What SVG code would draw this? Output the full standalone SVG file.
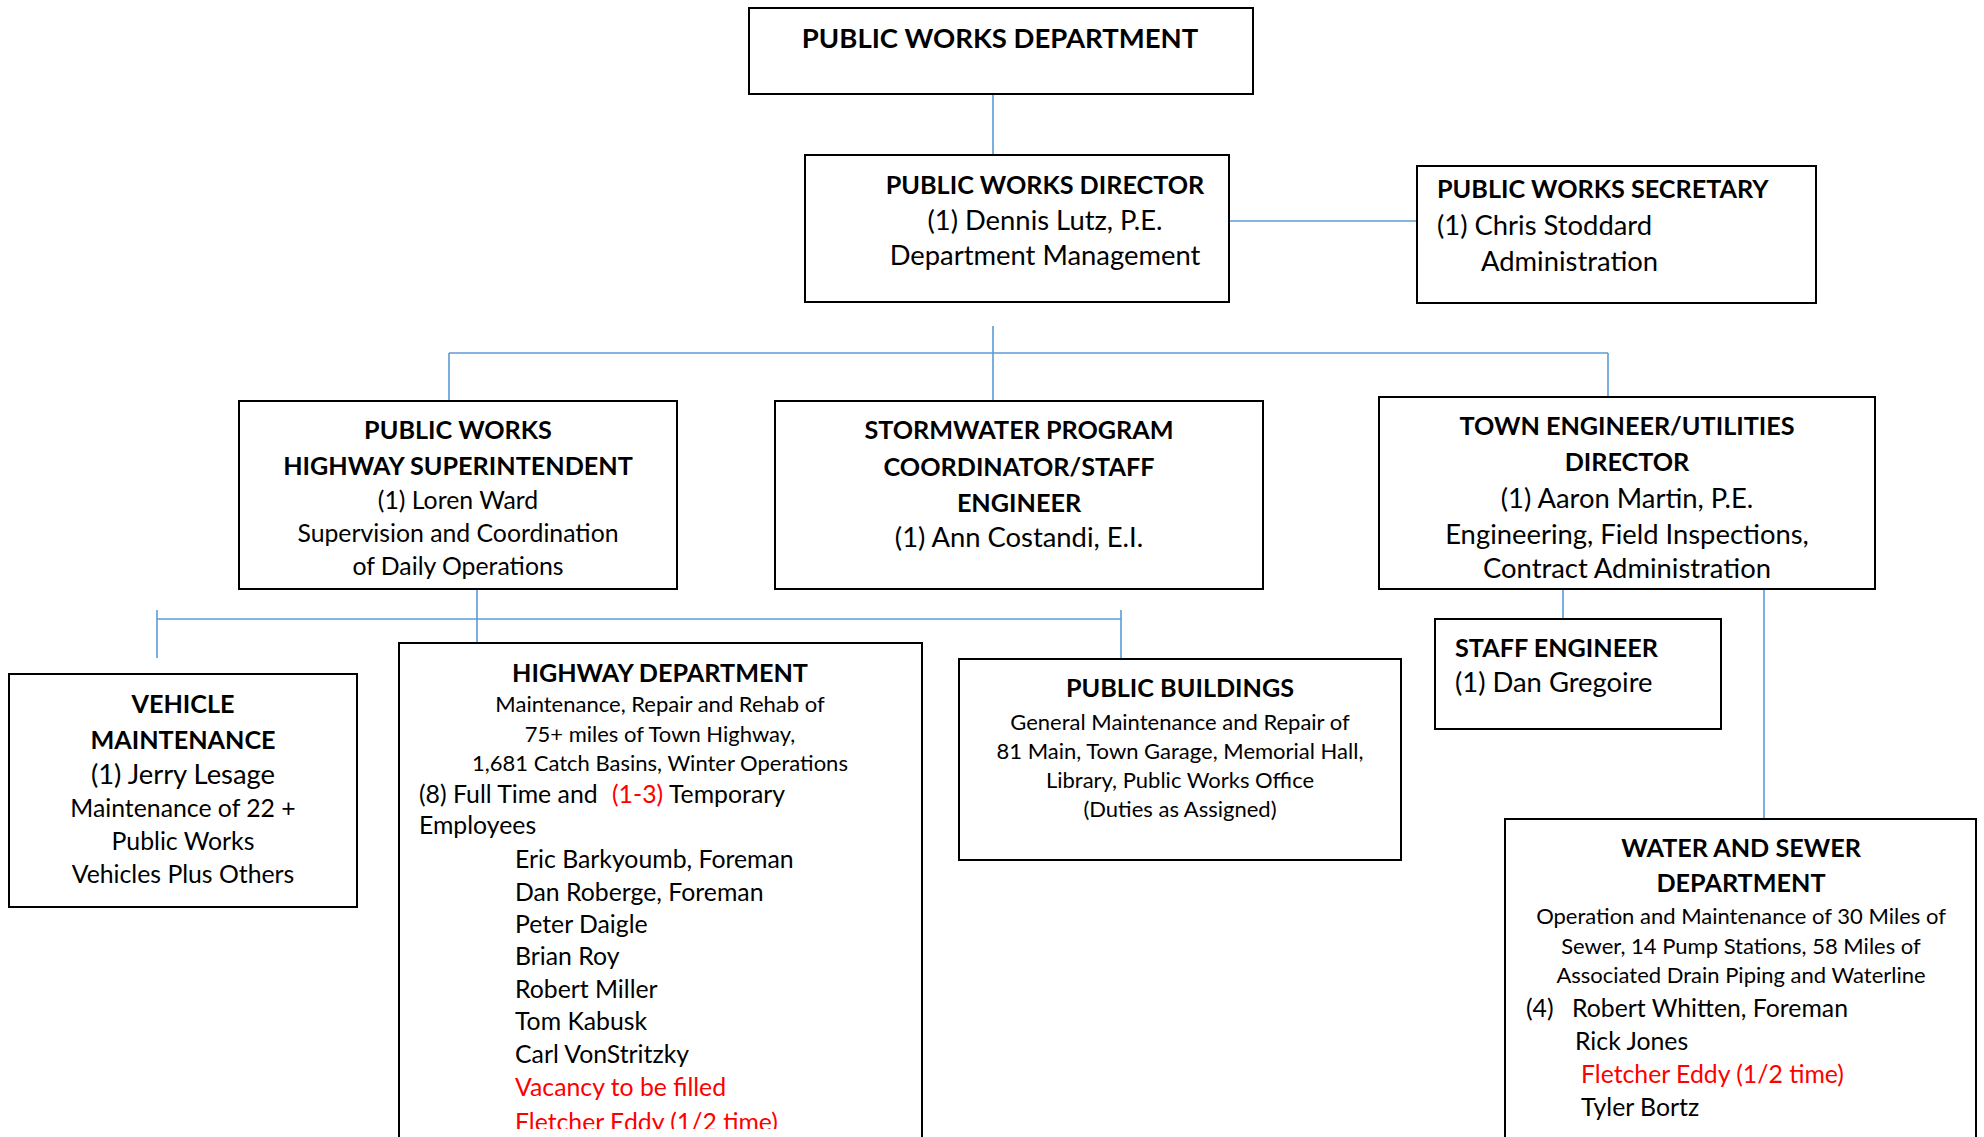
<svg xmlns="http://www.w3.org/2000/svg" width="1984" height="1137" viewBox="0 0 1984 1137">
<style>
.box{fill:#fff;stroke:#000;stroke-width:2}
.ln{stroke:#5B9BD5;stroke-width:1.6;fill:none}
text{font-family:Lato,"Liberation Sans",sans-serif;fill:#000}
.xl{font-size:27.5px;font-weight:700}
.b{font-size:25.2px;font-weight:700}
.l{font-size:27.4px}
.m{font-size:24.8px}
.s{font-size:22px}
.c{text-anchor:middle}
.red{fill:#FF0000}
</style>
<defs>
<clipPath id="pageclip"><rect x="0" y="0" width="1984" height="1129"/></clipPath>
</defs>
<g id="connectors">
<path class="ln" d="M993,94V154"/>
<path class="ln" d="M1229,221H1417"/>
<path class="ln" d="M993,326V401"/>
<path class="ln" d="M449,353H1608"/>
<path class="ln" d="M449,353V401"/>
<path class="ln" d="M1608,353V397"/>
<path class="ln" d="M477,589V658"/>
<path class="ln" d="M157,619H1121"/>
<path class="ln" d="M157,610V658"/>
<path class="ln" d="M1121,610V659"/>
<path class="ln" d="M1563,589V619"/>
<path class="ln" d="M1764,589V819"/>
</g>
<g id="public-works-department">
<rect class="box" x="749" y="8" width="504" height="86"/>
<text class="xl c" x="1000" y="48">PUBLIC WORKS DEPARTMENT</text>
</g>
<g id="public-works-director">
<rect class="box" x="805" y="155" width="424" height="147"/>
<text class="b c" x="1045" y="194">PUBLIC WORKS DIRECTOR</text>
<text class="l c" x="1045" y="230">(1) Dennis Lutz, P.E.</text>
<text class="l c" x="1045" y="265">Department Management</text>
</g>
<g id="public-works-secretary">
<rect class="box" x="1417" y="166" width="399" height="137"/>
<text class="b" x="1437" y="198">PUBLIC WORKS SECRETARY</text>
<text class="l" x="1437" y="235">(1) Chris Stoddard</text>
<text class="l" x="1481" y="271">Administration</text>
</g>
<g id="highway-superintendent">
<rect class="box" x="239" y="401" width="438" height="188"/>
<text class="b c" x="458" y="439">PUBLIC WORKS</text>
<text class="b c" x="458" y="475">HIGHWAY SUPERINTENDENT</text>
<text class="m c" x="458" y="509">(1) Loren Ward</text>
<text class="m c" x="458" y="542">Supervision and Coordination</text>
<text class="m c" x="458" y="575">of Daily Operations</text>
</g>
<g id="stormwater-coordinator">
<rect class="box" x="775" y="401" width="488" height="188"/>
<text class="b c" x="1019" y="439">STORMWATER PROGRAM</text>
<text class="b c" x="1019" y="476">COORDINATOR/STAFF</text>
<text class="b c" x="1019" y="512">ENGINEER</text>
<text class="l c" x="1019" y="547">(1) Ann Costandi, E.I.</text>
</g>
<g id="town-engineer">
<rect class="box" x="1379" y="397" width="496" height="192"/>
<text class="b c" x="1627" y="435">TOWN ENGINEER/UTILITIES</text>
<text class="b c" x="1627" y="471">DIRECTOR</text>
<text class="l c" x="1627" y="508">(1) Aaron Martin, P.E.</text>
<text class="l c" x="1627" y="544">Engineering, Field Inspections,</text>
<text class="l c" x="1627" y="578">Contract Administration</text>
</g>
<g id="staff-engineer">
<rect class="box" x="1435" y="619" width="286" height="110"/>
<text class="b" x="1455" y="657">STAFF ENGINEER</text>
<text class="l" x="1455" y="692">(1) Dan Gregoire</text>
</g>
<g id="vehicle-maintenance">
<rect class="box" x="9" y="674" width="348" height="233"/>
<text class="b c" x="183" y="713">VEHICLE</text>
<text class="b c" x="183" y="749">MAINTENANCE</text>
<text class="l c" x="183" y="784">(1) Jerry Lesage</text>
<text class="m c" x="183" y="817">Maintenance of 22 +</text>
<text class="m c" x="183" y="850">Public Works</text>
<text class="m c" x="183" y="883">Vehicles Plus Others</text>
</g>
<g id="highway-department">
<rect class="box" x="399" y="643" width="523" height="600"/>
<text class="b c" x="660" y="682">HIGHWAY DEPARTMENT</text>
<text class="s c" x="660" y="712">Maintenance, Repair and Rehab of</text>
<text class="s c" x="660" y="742">75+ miles of Town Highway,</text>
<text class="s c" x="660" y="771">1,681 Catch Basins, Winter Operations</text>
<text class="m" x="419" y="803">(8) Full Time and <tspan class="red" x="612">(1-3)</tspan><tspan x="669">Temporary</tspan></text>
<text class="m" x="419" y="834">Employees</text>
<text class="m" x="515" y="868">Eric Barkyoumb, Foreman</text>
<text class="m" x="515" y="901">Dan Roberge, Foreman</text>
<text class="m" x="515" y="933">Peter Daigle</text>
<text class="m" x="515" y="965">Brian Roy</text>
<text class="m" x="515" y="998">Robert Miller</text>
<text class="m" x="515" y="1030">Tom Kabusk</text>
<text class="m" x="515" y="1063">Carl VonStritzky</text>
<text class="m red" x="515" y="1096">Vacancy to be filled</text>
<text class="m red" x="515" y="1131" clip-path="url(#pageclip)">Fletcher Eddy (1/2 time)</text>
</g>
<g id="public-buildings">
<rect class="box" x="959" y="659" width="442" height="201"/>
<text class="b c" x="1180" y="697">PUBLIC  BUILDINGS</text>
<text class="s c" x="1180" y="730">General Maintenance and Repair of</text>
<text class="s c" x="1180" y="759">81 Main, Town Garage, Memorial Hall,</text>
<text class="s c" x="1180" y="788">Library, Public Works Office</text>
<text class="s c" x="1180" y="817">(Duties as Assigned)</text>
</g>
<g id="water-sewer">
<rect class="box" x="1505" y="819" width="471" height="400"/>
<text class="b c" x="1741" y="857">WATER AND SEWER</text>
<text class="b c" x="1741" y="892">DEPARTMENT</text>
<text class="s c" x="1741" y="924">Operation and Maintenance of 30 Miles of</text>
<text class="s c" x="1741" y="954">Sewer, 14 Pump Stations, 58 Miles of</text>
<text class="s c" x="1741" y="983">Associated Drain Piping and Waterline</text>
<text class="m" x="1526" y="1017">(4)</text>
<text class="m" x="1572" y="1017">Robert Whitten, Foreman</text>
<text class="m" x="1575" y="1050">Rick Jones</text>
<text class="m red" x="1581" y="1083">Fletcher Eddy (1/2 time)</text>
<text class="m" x="1581" y="1116">Tyler Bortz</text>
</g>
</svg>
